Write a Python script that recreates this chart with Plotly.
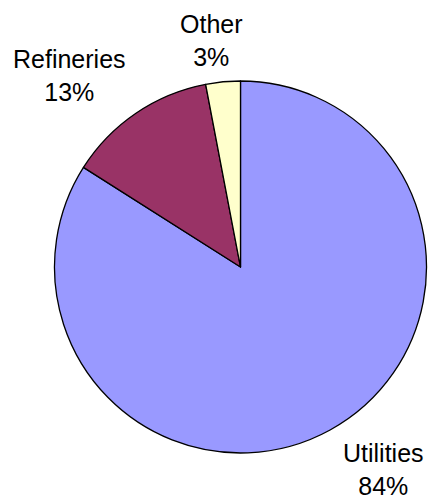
import plotly.graph_objects as go

labels = ["Utilities", "Refineries", "Other"]
values = [84, 13, 3]
colors = ["#9999FF", "#993366", "#FFFFCC"]

# label placement (paper coords) for the outside labels
label_x = [0.895, 0.163, 0.492]
label_y = [0.061, 0.85, 0.918]

fig = go.Figure(go.Pie(
    labels=labels,
    values=values,
    sort=False,
    direction="clockwise",
    rotation=0,
    textinfo="none",
    hoverinfo="label+percent",
    marker=dict(colors=colors, line=dict(color="black", width=1.3)),
    domain=dict(x=[0.1259, 0.9953], y=[0.094, 0.838]),
    showlegend=False,
))

annotations = []
for lab, val, x, y in zip(labels, values, label_x, label_y):
    annotations.append(dict(
        text=f"{lab}<br>{val}%",
        x=x, y=y, xref="paper", yref="paper",
        xanchor="center", yanchor="middle",
        showarrow=False,
        font=dict(family="Liberation Sans, Arial", size=25, color="black"),
    ))

fig.update_layout(
    width=429, height=500,
    margin=dict(l=0, r=0, t=0, b=0),
    paper_bgcolor="white",
    plot_bgcolor="white",
    annotations=annotations,
)

fig.write_html(
    "out.html",
    config={"displayModeBar": False},
    post_script="document.body.style.margin='0';document.body.style.overflow='hidden';",
)
